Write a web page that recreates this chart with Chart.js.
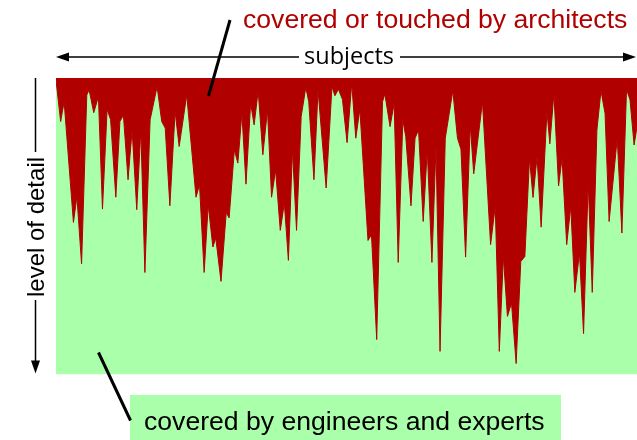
<!DOCTYPE html>
<html>
<head>
<meta charset="utf-8">
<script src="https://cdn.jsdelivr.net/npm/chart.js@4.4.1/dist/chart.umd.min.js"></script>
<style>
  html, body { margin: 0; padding: 0; background: #fff; }
  canvas { display: block; }
</style>
</head>
<body>
<canvas id="chart" width="637" height="440"></canvas>
<script>
// position along the subjects axis (0 = left edge, 100 = right edge)
const subjectPos = [
  0, 0.8, 1.4, 3.0, 3.6, 4.4, 5.3, 5.7, 6.5, 7.3, 8.0, 8.8, 9.4, 10.3, 11.0, 11.6,
  12.4, 13.1, 13.9, 14.6, 15.3, 16.2, 17.4, 18.2, 18.8, 19.6, 20.5, 21.2, 22.5,
  24.1, 24.7, 25.5, 26.2, 27.0, 27.5, 28.4, 29.3, 29.8, 30.7, 31.3, 32.0, 32.7,
  33.5, 34.1, 34.8, 35.6, 36.4, 37.1, 37.8, 38.6, 39.3, 40.0, 40.7, 41.4, 42.2,
  43.0, 43.5, 44.4, 45.1, 46.5, 47.5, 48.0, 48.6, 49.3, 50.1, 50.9, 51.6, 52.3,
  53.7, 54.3, 55.2, 56.2, 56.6, 57.5, 58.2, 58.9, 59.7, 60.2, 61.1, 61.8, 62.4,
  63.2, 63.9, 64.7, 65.4, 66.1, 67.0, 68.3, 69.1, 69.7, 70.5, 71.3, 71.9, 73.4,
  74.8, 75.6, 76.3, 77.0, 77.7, 78.4, 79.2, 80.0, 80.7, 81.5, 82.1, 82.8, 83.5,
  84.5, 85.0, 85.7, 86.5, 87.1, 87.9, 88.6, 89.3, 90.1, 90.8, 91.6, 92.3, 93.1,
  93.8, 94.5, 95.2, 96.6, 97.4, 98.2, 98.8, 99.5, 100
];

// how deep the architects went (0 = top, 100 = full level of detail)
const architectDepth = [
  0.7, 14.7, 8.0, 48.7, 40.0, 62.7, 5.7, 4.0, 11.7, 6.3, 44.2, 10.5, 14.1, 40.2, 14.7, 12.5,
  34.3, 17.5, 44.4, 17.5, 65.6, 14.1, 2.9, 14.7, 16.9, 43.1, 11.3, 23.1, 5.7,
  40.2, 36.0, 65.6, 42.8, 57.0, 54.0, 68.6, 45.4, 47.2, 24.2, 28.7, 11.9, 35.8,
  8.5, 15.8, 4.3, 25.9, 10.8, 40.2, 31.0, 51.4, 42.2, 61.5, 24.2, 51.4, 13.0,
  3.1, 8.0, 34.3, 4.0, 37.1, 2.9, 6.0, 3.8, 7.2, 21.8, 1.8, 20.3, 10.5,
  54.8, 52.9, 88.2, 8.0, 5.4, 16.4, 8.5, 62.2, 14.1, 19.8, 43.1, 20.3, 17.5,
  48.4, 24.2, 62.2, 23.1, 92.2, 20.3, 4.3, 20.3, 24.0, 60.4, 15.8, 32.3, 8.0,
  56.2, 43.3, 92.2, 60.2, 80.4, 75.9, 96.3, 61.9, 60.2, 27.0, 40.3, 26.5, 50.3,
  11.3, 22.2, 5.2, 36.4, 27.0, 56.2, 43.3, 72.3, 59.0, 86.2, 35.3, 72.3, 17.5,
  4.3, 11.9, 48.4, 20.3, 52.3, 3.8, 7.4, 22.6, 16.5
];

const topLabel = 'covered or touched by architects';
const bottomLabel = 'covered by engineers and experts';
const xAxisLabel = 'subjects';
const yAxisLabel = 'level of detail';

const RED = '#b00000';
const GREEN = '#aaffaa';

const points = subjectPos.map((x, i) => ({ x: x, y: architectDepth[i] }));

function arrowHead(ctx, tipX, tipY, dx, dy) {
  // dx, dy: unit direction the arrow points to
  const len = 13, half = 4.5;
  const bx = tipX - dx * len, by = tipY - dy * len;
  ctx.beginPath();
  ctx.moveTo(tipX, tipY);
  ctx.lineTo(bx - dy * half, by + dx * half);
  ctx.lineTo(bx + dy * half, by - dx * half);
  ctx.closePath();
  ctx.fill();
}

const annotations = {
  id: 'annotations',
  afterDraw(chart) {
    const ctx = chart.ctx;
    const area = chart.chartArea;
    ctx.save();

    // horizontal "subjects" arrow
    const ay = 57;
    ctx.strokeStyle = '#000';
    ctx.fillStyle = '#000';
    ctx.lineWidth = 1.5;
    ctx.beginPath();
    ctx.moveTo(area.left + 8, ay); ctx.lineTo(299, ay);
    ctx.moveTo(400, ay); ctx.lineTo(area.right - 8, ay);
    ctx.stroke();
    arrowHead(ctx, area.left, ay, -1, 0);
    arrowHead(ctx, area.right - 1, ay, 1, 0);
    ctx.font = '23.5px "Open Sans"';
    ctx.textAlign = 'center';
    ctx.textBaseline = 'middle';
    ctx.fillText(xAxisLabel, 349, ay);

    // vertical "level of detail" arrow
    const ax = 35.5;
    ctx.beginPath();
    ctx.moveTo(ax, area.top); ctx.lineTo(ax, 152);
    ctx.moveTo(ax, 300); ctx.lineTo(ax, area.bottom - 10);
    ctx.stroke();
    arrowHead(ctx, ax, area.bottom - 1, 0, 1);
    ctx.save();
    ctx.translate(43.5, 227);
    ctx.rotate(-Math.PI / 2);
    ctx.font = '24px "Liberation Sans"';
    ctx.textAlign = 'center';
    ctx.textBaseline = 'alphabetic';
    ctx.fillText(yAxisLabel, 0, 0);
    ctx.restore();

    // top callout
    ctx.fillStyle = RED;
    ctx.font = '26.6px "Liberation Sans"';
    ctx.textAlign = 'left';
    ctx.textBaseline = 'alphabetic';
    ctx.fillText(topLabel, 243, 27.5);
    ctx.lineWidth = 3;
    ctx.beginPath();
    ctx.moveTo(230, 20); ctx.lineTo(208.5, 96);
    ctx.stroke();

    // bottom callout
    ctx.fillStyle = GREEN;
    ctx.fillRect(130, 395, 431, 45);
    ctx.fillStyle = '#000';
    ctx.fillText(bottomLabel, 144, 429.5);
    ctx.beginPath();
    ctx.moveTo(98.5, 352.5); ctx.lineTo(130.5, 420.5);
    ctx.stroke();

    ctx.restore();
  }
};

new Chart(document.getElementById('chart'), {
  type: 'line',
  data: {
    datasets: [
      {
        label: 'architects',
        data: points,
        fill: { value: 0 },
        backgroundColor: RED,
        borderColor: RED,
        borderWidth: 1,
        pointRadius: 0,
        tension: 0
      },
      {
        label: 'engineers and experts',
        data: points,
        fill: { value: 100 },
        backgroundColor: GREEN,
        borderColor: 'rgba(0,0,0,0)',
        borderWidth: 1,
        pointRadius: 0,
        tension: 0
      }
    ]
  },
  options: {
    responsive: false,
    devicePixelRatio: 1,
    animation: false,
    layout: { padding: { left: 56, right: 0, top: 78, bottom: 65.5 } },
    scales: {
      x: { type: 'linear', min: 0, max: 100, display: false },
      y: { min: 0, max: 100, reverse: true, display: false }
    },
    plugins: {
      legend: { display: false },
      tooltip: { enabled: false }
    }
  },
  plugins: [annotations]
});
</script>
</body>
</html>
